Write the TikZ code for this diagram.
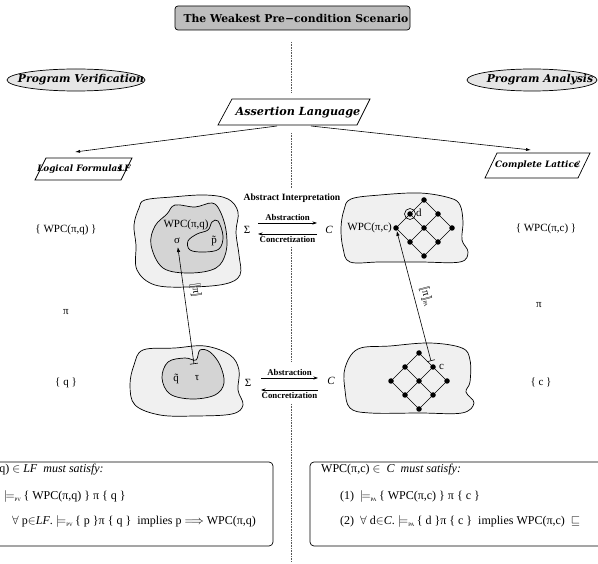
\documentclass[tikz,border=0pt]{standalone}
\usepackage{fontspec}
\setmainfont{Liberation Serif}
\newfontfamily\hdfont{DejaVu Serif}
\usetikzlibrary{arrows.meta,shapes.geometric}
\definecolor{titlefill}{HTML}{BDBDBD}
\definecolor{ellfill}{HTML}{E6E6E6}
\definecolor{outerfill}{HTML}{F0F0F0}
\definecolor{innerfill}{HTML}{D4D4D4}
\newcommand{\entails}[1]{$\models_{\mbox{\tiny #1}}$\,}
\begin{document}
\begin{tikzpicture}[x=1pt,y=-1pt,
  every node/.style={inner sep=0pt},
  hd/.style={font=\hdfont\bfseries\itshape\fontsize{10.8}{12}\selectfont},
  hdsmall/.style={font=\hdfont\bfseries\itshape\fontsize{8.8}{10}\selectfont},
  lbl/.style={font=\fontsize{11}{13}\selectfont},
  boxtxt/.style={font=\fontsize{12}{14}\selectfont, anchor=west},
  smb/.style={font=\bfseries\fontsize{8.8}{10}\selectfont},
  ldot/.style={circle,fill=black,minimum size=5.5pt},
  blobout/.style={draw,line width=0.7pt,fill=outerfill},
  blobin/.style={draw,line width=0.7pt,fill=innerfill},
  sep/.style={densely dotted,line width=0.6pt,gray!70!black},
  thinarrow/.style={line width=0.6pt,-{Latex[length=5pt,width=3pt]}},
  absarrow/.style={line width=0.6pt,-{Stealth[length=4.5pt,width=3pt]}},
  maparrow/.style={line width=0.6pt,{Bar[width=8pt]}-{Latex[length=5pt,width=3.5pt]}},
  semlbl/.style={sloped,above=6pt,font=\fontsize{11}{12}\selectfont},
  latedge/.style={line width=0.7pt},
  condbox/.style={draw,line width=0.7pt,rounded corners=4pt}]
\useasboundingbox (0,0) rectangle (598,564);

% separator
\draw[sep] (291,42) -- (291,93);
\draw[sep] (291,133) -- (291,188);
\draw[sep] (291,247) -- (291,362);
\draw[sep] (291,404) -- (291,562);

% title
\node[draw,line width=0.7pt,rounded corners=3pt,fill=titlefill,minimum width=235pt,minimum height=24pt] (titlebox) at (292.5,18) {};
\node[font=\hdfont\bfseries\fontsize{10.8}{12}\selectfont] (title) at (296,18) {The Weakest Pre−condition Scenario};

% ellipses
\node[ellipse,draw,line width=0.7pt,fill=ellfill,minimum width=138pt,minimum height=22pt] (pvell) at (76,80) {};
\node[hd] (pv) at (81,80) {Program Verification};
\node[ellipse,draw,line width=0.7pt,fill=ellfill,minimum width=130pt,minimum height=22pt] (paell) at (532,80) {};
\node[hd] (pa) at (540,80) {Program Analysis};

% assertion language
\draw[line width=0.7pt,fill=white] (218,125) -- (232,99) -- (370,99) -- (357,125) -- cycle;
\node[font=\hdfont\bfseries\itshape\fontsize{11.2}{13}\selectfont] (al) at (298,112) {Assertion Language};
\coordinate (alL) at (277,126);
\coordinate (alR) at (311,126);

% logical formulas
\draw[line width=0.7pt,fill=white] (35,180) -- (46,158) -- (132,158) -- (121,180) -- cycle;
\node[hdsmall] (lf) at (84,169) {Logical Formulas\hspace{-4pt}\textit{LF}};
\coordinate (lfT) at (75,152);

% complete lattice
\draw[line width=0.7pt,fill=white] (485,178) -- (497,153) -- (590,153) -- (578,178) -- cycle;
\node[hdsmall] (cl) at (538,165.5) {Complete Lattice\hspace{-4pt}$\mathcal{C}$};
\coordinate (clT) at (531,150);

\draw[thinarrow] (alL) -- (lfT);
\draw[thinarrow] (alR) -- (clT);

% side labels
\node[lbl] (wpcq) at (66,230) {\{ WPC(π,q) \}};
\node[lbl] (piL) at (66,312) {π};
\node[lbl] (qset) at (66,383) {\{ q \}};
\node[lbl] (wpcc) at (546,229) {\{ WPC(π,c) \}};
\node[lbl] (piR) at (539,305) {π};
\node[lbl] (cset) at (541,382) {\{ c \}};

% top-left blob
\draw[blobout] plot[smooth cycle,tension=0.6] coordinates {(145,200) (172,197) (205,195) (228,199) (238,212) (236,232) (239,255) (240,275) (225,284) (190,287) (155,285) (137,270) (136,245) (134,225) (139,208)};
\draw[blobin] plot[smooth cycle,tension=0.6] coordinates {(151,245) (155,226) (167,214) (175,205) (195,207) (212,203) (220,211) (226,230) (226,252) (216,268) (190,273) (163,268)};
\draw[blobin] plot[smooth cycle,tension=0.6] coordinates {(188,241) (197,234) (208,230) (212,222) (218,221) (223,236) (219,249) (204,252) (190,250)};
\node[lbl] (wpcin) at (186,225) {WPC(π,q)};
\node[lbl] (sigma) at (177,241) {σ};
\node[lbl] (ptil) at (214,241) {\~{p}};

% top-right blob
\draw[blobout] plot[smooth cycle,tension=0.6] coordinates {(351,199) (380,195) (420,193) (450,198) (460,205) (463,222) (462,240) (468,252) (460,262) (420,262) (380,262) (350,262) (343,248) (341,228) (344,210)};

% top lattice
\node[ldot] (t1) at (424,200) {};
\node[ldot] (t2) at (410,214) {};
\node[ldot] (t3) at (438,214) {};
\node[ldot] (t4) at (396,228) {};
\node[ldot] (t5) at (424,228) {};
\node[ldot] (t6) at (452,228) {};
\node[ldot] (t7) at (410,242) {};
\node[ldot] (t8) at (438,242) {};
\node[ldot] (t9) at (424,256) {};
\draw[latedge] (t1)--(t2) (t1)--(t3) (t2)--(t4) (t2)--(t5) (t3)--(t5) (t3)--(t6) (t4)--(t7) (t5)--(t7) (t5)--(t8) (t6)--(t8) (t7)--(t9) (t8)--(t9);
\node[circle,draw,line width=0.6pt,minimum size=11pt] (dring) at (410,214) {};
\node[lbl,anchor=west] (dlab) at (416,213) {d};
\node[lbl,anchor=east] (wpcclab) at (392,228) {WPC(π,c)};

% bottom-left blob
\draw[blobout] plot[smooth cycle,tension=0.6] coordinates {(143,350) (175,348) (205,346) (230,355) (239,370) (238,390) (243,405) (232,414) (195,416) (160,415) (135,405) (130,385) (134,365)};
\draw[blobin] plot[smooth cycle,tension=0.6] coordinates {(162,378) (168,362) (185,358) (196,360) (200,350) (210,352) (220,365) (224,383) (215,395) (192,399) (170,394)};
\node[lbl] (qtil) at (176,379) {\~{q}};
\node[lbl] (tau) at (197,378) {τ};
\coordinate (taubar) at (194,364);

% bottom-right blob
\draw[blobout] plot[smooth cycle,tension=0.6] coordinates {(358,349) (390,346) (430,343) (462,348) (470,360) (470,382) (466,392) (474,403) (462,413) (420,413) (370,413) (350,408) (345,390) (345,368)};
\node[ldot] (b1) at (419,353) {};
\node[ldot] (b2) at (405,367) {};
\node[ldot] (b3) at (433,367) {};
\node[ldot] (b4) at (391,381) {};
\node[ldot] (b5) at (419,381) {};
\node[ldot] (b6) at (447,381) {};
\node[ldot] (b7) at (405,395) {};
\node[ldot] (b8) at (433,395) {};
\node[ldot] (b9) at (419,409) {};
\draw[latedge] (b1)--(b2) (b1)--(b3) (b2)--(b4) (b2)--(b5) (b3)--(b5) (b3)--(b6) (b4)--(b7) (b5)--(b7) (b5)--(b8) (b6)--(b8) (b7)--(b9) (b8)--(b9);
\node[lbl,anchor=west] (clab) at (439,367) {c};
\coordinate (cbar) at (431,361);

% mapping arrows
\draw[maparrow,shorten >=3pt] (taubar) -- node[semlbl,pos=0.6] (semL) {$[\![\mbox{π}]\!]$} (sigma);
\draw[maparrow] (cbar) -- node[semlbl,pos=0.47] (semR) {$[\![\mbox{π}]\!]_{\mbox{\tiny PA}}$} (t4);

% abstract interpretation (top)
\node[font=\bfseries\fontsize{9.6}{11}\selectfont] (absint) at (292,198) {Abstract Interpretation};
\node[lbl] (sig1) at (247,230) {Σ};
\node[lbl,font=\itshape\fontsize{11}{13}\selectfont] (c1) at (329,230) {C};
\coordinate (a1s) at (258,223); \coordinate (a1e) at (317,223);
\coordinate (c1s) at (317,234); \coordinate (c1e) at (258,234);
\draw[absarrow] (a1s) -- node[above=2.5pt,smb] (abs1) {Abstraction} (a1e);
\draw[absarrow] (c1s) -- node[below=2.5pt,smb] (con1) {Concretization} (c1e);

% abstract interpretation (bottom)
\node[lbl] (sig2) at (248,383) {Σ};
\node[lbl,font=\itshape\fontsize{11}{13}\selectfont] (c2) at (331,381) {C};
\coordinate (a2s) at (261,378); \coordinate (a2e) at (318,378);
\coordinate (c2s) at (318,390); \coordinate (c2e) at (261,390);
\draw[absarrow] (a2s) -- node[above=2.5pt,smb] (abs2) {Abstraction} (a2e);
\draw[absarrow] (c2s) -- node[below=2.5pt,smb] (con2) {Concretization} (c2e);

% condition boxes
\draw[condbox] (-55,462) rectangle (273,546);
\node[boxtxt] (lb1) at (-40,470) {WPC(π,q) $\in$ \textit{LF}\ \ \textit{must satisfy:}};
\node[boxtxt,anchor=east] (lb2n) at (-6,497) {(1)};
\node[boxtxt] (lb2) at (4,497) {\entails{PV}\{ WPC(π,q) \} π \{ q \}};
\node[boxtxt,anchor=east] (lb3n) at (-6,522) {(2)};
\node[boxtxt] (lb3) at (12,522) {$\forall$ p$\in$\textit{LF}. \entails{PV}\{ p \}π \{ q \} \ implies p $\Longrightarrow$ WPC(π,q)};

\draw[condbox] (310,462) rectangle (640,546);
\node[boxtxt] (rb1) at (321,470) {WPC(π,c) $\in$ \ \textit{C}\ \ \textit{must satisfy:}};
\node[boxtxt] (rb2) at (340,497) {(1)\hspace{6pt}\entails{PA}\{ WPC(π,c) \} π \{ c \}};
\node[boxtxt] (rb3) at (340,522) {(2)\hspace{6pt}$\forall$ d$\in$\textit{C}. \entails{PA}\{ d \}π \{ c \} \ implies WPC(π,c) \ $\sqsubseteq$};
\end{tikzpicture}
\end{document}
